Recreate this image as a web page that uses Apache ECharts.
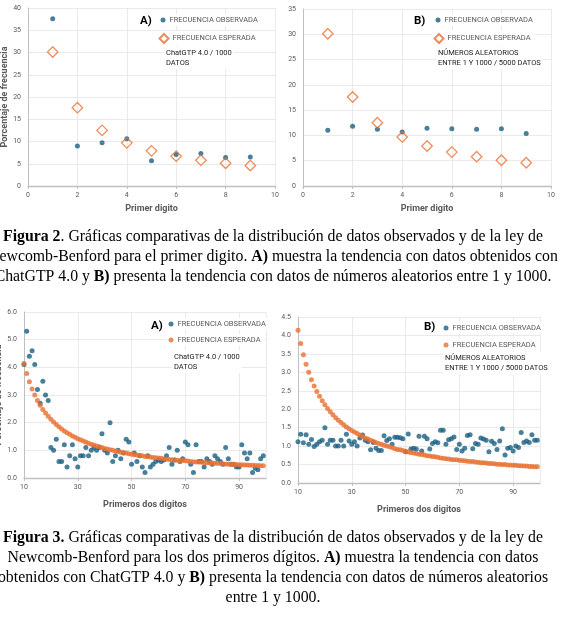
<!DOCTYPE html>
<html><head><meta charset="utf-8">
<script src="https://cdn.jsdelivr.net/npm/echarts@6/dist/echarts.min.js"></script>
<style>html,body{margin:0;padding:0;background:#fff;overflow:hidden}#c{width:566px;height:617px}</style>
</head><body><div id="c"></div>
<script>
// ---------- DATA ----------
const digits1 = [1, 2, 3, 4, 5, 6, 7, 8, 9];
const obsGPT1 = [37.6, 9.0, 9.7, 10.6, 5.7, 7.1, 7.3, 6.4, 6.5];
const obsRand1 = [11.0, 11.8, 11.2, 10.7, 11.4, 11.3, 11.2, 11.3, 10.4];
const expected1 = [30.1, 17.6, 12.5, 9.7, 7.9, 6.7, 5.8, 5.1, 4.6];

const digits2 = [10,11,12,13,14,15,16,17,18,19,20,21,22,23,24,25,26,27,28,29,30,31,32,33,34,35,36,37,38,39,40,41,42,43,44,45,46,47,48,49,50,51,52,53,54,55,56,57,58,59,60,61,62,63,64,65,66,67,68,69,70,71,72,73,74,75,76,77,78,79,80,81,82,83,84,85,86,87,88,89,90,91,92,93,94,95,96,97,98,99];
const obsGPT2 = [4.1,5.3,4.4,4.6,4.1,3.2,2.7,3.5,3.0,2.8,1.1,1.0,1.4,0.6,0.6,1.2,0.4,0.8,1.2,0.7,0.4,0.8,0.8,1.1,0.8,1.0,1.1,1.0,1.1,1.6,1.0,0.9,2.0,0.6,0.8,1.0,0.7,0.9,1.4,1.3,0.5,0.9,0.6,0.8,0.4,0.2,0.8,0.4,0.5,0.6,0.65,0.6,0.65,0.8,1.1,0.5,0.65,1.0,0.6,0.7,1.3,1.2,0.5,0.2,1.2,0.6,0.6,0.4,0.7,0.6,0.5,0.8,0.7,0.6,0.5,1.1,0.7,0.5,0.5,0.4,0.4,1.2,0.9,0.7,0.9,0.2,0.35,0.3,0.7,0.8];
const obsRand2 = [1.12,1.32,1.09,1.31,1.05,1.18,0.99,1.05,1.12,1.16,1.5,1.05,1.16,1.16,1.0,1.0,1.16,1.0,1.32,1.14,1.05,1.12,1.0,1.22,1.3,1.16,1.12,0.9,1.1,0.94,0.88,0.88,1.28,1.15,1.2,1.05,1.24,1.24,1.23,1.2,0.85,1.33,0.92,0.94,0.92,1.27,0.87,1.27,1.2,0.92,1.07,1.12,1.09,1.43,1.43,1.05,1.17,1.2,1.25,0.91,1.05,0.87,0.94,1.29,1.31,0.93,1.07,1.05,1.22,1.19,1.16,0.85,1.13,1.07,0.91,1.14,1.47,0.76,0.94,0.96,0.87,1.0,0.96,1.37,1.1,1.14,1.1,1.31,1.16,1.16];
const expected2 = [4.14,3.78,3.48,3.22,3.00,2.80,2.63,2.48,2.35,2.23,2.12,2.02,1.93,1.85,1.77,1.70,1.64,1.58,1.52,1.47,1.42,1.38,1.34,1.30,1.26,1.22,1.19,1.16,1.13,1.10,1.07,1.05,1.02,1.00,0.98,0.96,0.93,0.91,0.90,0.88,0.86,0.84,0.83,0.81,0.80,0.78,0.77,0.76,0.74,0.73,0.72,0.71,0.70,0.68,0.67,0.66,0.65,0.64,0.63,0.63,0.62,0.61,0.60,0.59,0.58,0.58,0.57,0.56,0.55,0.55,0.54,0.53,0.53,0.52,0.51,0.51,0.50,0.50,0.49,0.49,0.48,0.48,0.47,0.47,0.46,0.46,0.45,0.45,0.44,0.44];

const legendLabels = { obs: 'FRECUENCIA OBSERVADA', exp: 'FRECUENCIA ESPERADA' };

// ---------- STYLE ----------
const BLUE = '#1a5f82', ORANGE = '#e97132', GRIDC = '#e4e4e4', AXISC = '#bfbfbf', TXT = '#595959';
const SANS = "Roboto,'Liberation Sans',sans-serif";
const SERIF = "'Liberation Serif','Times New Roman',serif";
const CAP_X = 273, CAP_SIZE = 15.8;

const pairs = (xs, ys) => xs.map((x, i) => [x, ys[i]]);

function xAx(grid, min, max, interval, name, gap) {
  return {
    type: 'value', gridIndex: grid, min, max, interval,
    name, nameLocation: 'middle', nameGap: gap,
    nameTextStyle: { fontFamily: SANS, fontWeight: 'bold', fontSize: 9, color: TXT },
    axisLine: { show: true, onZero: false, lineStyle: { color: AXISC, width: 1.3 } },
    axisTick: { show: true, length: 3, lineStyle: { color: AXISC } },
    axisLabel: { fontFamily: SANS, fontSize: 7, color: TXT, margin: 6, showMaxLabel: max !== 100 },
    splitLine: { show: true, lineStyle: { color: GRIDC, width: 0.8 } }
  };
}
function yAx(grid, max, interval, name, gap, dec) {
  return {
    type: 'value', gridIndex: grid, min: 0, max, interval,
    name, nameLocation: 'middle', nameGap: gap,
    nameTextStyle: { fontFamily: SANS, fontWeight: 'bold', fontSize: 9, color: TXT },
    axisLine: { show: true, lineStyle: { color: AXISC, width: 1 } },
    axisTick: { show: false },
    axisLabel: { fontFamily: SANS, fontSize: 7, color: TXT, margin: 7,
      formatter: v => dec ? v.toFixed(1) : String(v) },
    splitLine: { show: true, lineStyle: { color: GRIDC, width: 0.8 } }
  };
}

function legendItem(name, cx, cy, size) {
  return {
    selectedMode: false, orient: 'horizontal',
    left: cx - size / 2 - 2, top: cy - 7,
    padding: [2, 4, 2, 2], itemWidth: size, itemHeight: size, itemGap: 0,
    backgroundColor: '#fff',
    data: [name],
    formatter: n => legendLabels[n.slice(0, 3)],
    textStyle: { fontFamily: SANS, fontSize: 7.5, color: TXT, padding: [0, 0, 0, -1] }
  };
}

function txt(x, y, text, opts) {
  return { type: 'text', x, y, silent: true, z: 100,
    style: Object.assign({ text, fontFamily: SANS, fontSize: 7.5, fill: '#222',
      textVerticalAlign: 'top', lineHeight: 10 }, opts || {}) };
}
function caption(y, text) {
  return { type: 'text', x: CAP_X, y, silent: true,
    style: { text, fontFamily: SERIF, fontSize: CAP_SIZE, fill: '#000', textAlign: 'center', textVerticalAlign: 'middle',
      rich: { b: { fontFamily: SERIF, fontSize: CAP_SIZE, fontWeight: 'bold', fill: '#000' } } } };
}

const obsSym = (idx, data) => ({ name: 'obs' + idx, type: 'scatter', xAxisIndex: idx, yAxisIndex: idx,
  data, symbol: 'circle', symbolSize: 5, itemStyle: { color: BLUE }, z: 2 });
const expDiamond = (idx, data) => ({ name: 'exp' + idx, type: 'scatter', xAxisIndex: idx, yAxisIndex: idx,
  data, symbol: 'diamond', symbolSize: 10.5, itemStyle: { color: 'rgba(255,255,255,0)', borderColor: ORANGE, borderWidth: 1.3 }, z: 3 });
const expDot = (idx, data) => ({ name: 'exp' + idx, type: 'scatter', xAxisIndex: idx, yAxisIndex: idx,
  data, symbol: 'circle', symbolSize: 5, itemStyle: { color: ORANGE }, z: 3 });

const option = {
  animation: false,
  backgroundColor: '#fff',
  grid: [
    { left: 28, top: 8, width: 247, height: 178, outerBoundsMode: 'none', containLabel: false },
    { left: 303, top: 9, width: 248, height: 177, outerBoundsMode: 'none', containLabel: false },
    { left: 24, top: 312, width: 242, height: 166, outerBoundsMode: 'none', containLabel: false },
    { left: 298, top: 317, width: 242, height: 166, outerBoundsMode: 'none', containLabel: false }
  ],
  xAxis: [
    xAx(0, 0, 10, 2, 'Primer digito', 18),
    xAx(1, 0, 10, 2, 'Primer digito', 18),
    xAx(2, 10, 100, 20, 'Primeros dos digitos', 22),
    xAx(3, 10, 100, 20, 'Primeros dos digitos', 22)
  ],
  yAxis: [
    yAx(0, 40, 5, 'Porcentaje de frecuencia', 19, false),
    yAx(1, 35, 5, '', 0, false),
    yAx(2, 6, 1, 'Porcentaje de frecuencia', 20, true),
    yAx(3, 4.5, 0.5, '', 0, true)
  ],
  legend: [
    legendItem('obs0', 163, 21, 5), legendItem('exp0', 163, 38, 9),
    legendItem('obs1', 438, 21, 5), legendItem('exp1', 438, 38, 9),
    legendItem('obs2', 171, 325, 5), legendItem('exp2', 171, 341, 5),
    legendItem('obs3', 446, 329, 5), legendItem('exp3', 446, 346, 5)
  ],
  series: [
    obsSym(0, pairs(digits1, obsGPT1)), expDiamond(0, pairs(digits1, expected1)),
    obsSym(1, pairs(digits1, obsRand1)), expDiamond(1, pairs(digits1, expected1)),
    obsSym(2, pairs(digits2, obsGPT2)), expDot(2, pairs(digits2, expected2)),
    obsSym(3, pairs(digits2, obsRand2)), expDot(3, pairs(digits2, expected2))
  ],
  graphic: [
    txt(140, 16, 'A)', { fontSize: 11.5, fontWeight: 'bold', fill: '#000' }),
    txt(164, 47, 'ChatGTP 4.0 / 1000\nDATOS', { backgroundColor: '#fff', padding: [1, 2] }),
    txt(414, 16, 'B)', { fontSize: 11.5, fontWeight: 'bold', fill: '#000' }),
    txt(436, 47, 'NÚMEROS ALEATORIOS\nENTRE 1 Y 1000 / 5000 DATOS', { backgroundColor: '#fff', padding: [1, 2] }),
    txt(151, 321, 'A)', { fontSize: 11.5, fontWeight: 'bold', fill: '#000' }),
    txt(172, 351, 'ChatGTP 4.0 / 1000\nDATOS', { backgroundColor: '#fff', padding: [1, 2] }),
    txt(424, 322, 'B)', { fontSize: 11.5, fontWeight: 'bold', fill: '#000' }),
    txt(443, 352, 'NÚMEROS ALEATORIOS\nENTRE 1 Y 1000 / 5000 DATOS', { backgroundColor: '#fff', padding: [1, 2] }),
    caption(237, '{b|Figura 2}. Gráficas comparativas de la distribución de datos observados y de la ley de'),
    caption(257, 'Newcomb-Benford para el primer digito. {b|A)} muestra la tendencia con datos obtenidos con'),
    caption(277, 'ChatGTP 4.0 y {b|B)} presenta la tendencia con datos de números aleatorios entre 1 y 1000.'),
    caption(538, '{b|Figura 3.} Gráficas comparativas de la distribución de datos observados y de la ley de'),
    caption(558, 'Newcomb-Benford para los dos primeros dígitos. {b|A)} muestra la tendencia con datos'),
    caption(578, 'obtenidos con ChatGTP 4.0 y {b|B)} presenta la tendencia con datos de números aleatorios'),
    caption(598, 'entre 1 y 1000.')
  ]
};
const chart = echarts.init(document.getElementById('c'), null, { renderer: 'canvas' });
chart.setOption(option);
</script></body></html>
